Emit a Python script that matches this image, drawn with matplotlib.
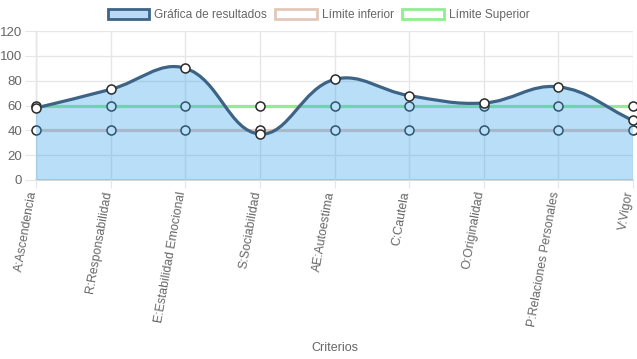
import matplotlib
matplotlib.use("Agg")
import matplotlib.pyplot as plt
from matplotlib.path import Path
from matplotlib.patches import PathPatch, Rectangle
from matplotlib.transforms import ScaledTranslation
import numpy as np

plt.rcParams['font.family'] = ['Liberation Sans', 'DejaVu Sans']

categorias = ["A:Ascendencia", "R:Responsabilidad", "E:Estabilidad Emocional",
              "S:Sociabilidad", "AE:Autoestima", "C:Cautela", "O:Originalidad",
              "P:Relaciones Personales", "V:Vigor"]
resultados = [58, 73, 90, 37, 81, 68, 62, 75, 48]
limite_inferior = [40, 40, 40, 40, 40, 40, 40, 40, 40]
limite_superior = [60, 60, 60, 60, 60, 60, 60, 60, 60]
y_ticks = [0, 20, 40, 60, 80, 100, 120]

W, H = 637, 359
fig = plt.figure(figsize=(W / 100, H / 100), dpi=100)
L, R, T, B = 36, 633, 31, 180
ax = fig.add_axes([L / W, 1 - B / H, (R - L) / W, (B - T) / H])
n = len(categorias)
ax.set_xlim(0, n - 1)
ax.set_ylim(0, 120)

GRID = '#e6e6e6'
TXT = '#666666'
ax.set_xticks(range(n))
ax.set_yticks(y_ticks)
ax.grid(True, color=GRID, linewidth=1, zorder=0)
for s in ax.spines.values():
    s.set_visible(False)
ax.axhline(0, color='#cfcfcf', linewidth=1.2, zorder=1)
ax.axvline(0, color='#d9d9d9', linewidth=1, zorder=1)
ax.tick_params(axis='both', color=GRID, labelcolor=TXT, labelsize=9.5)
ax.tick_params(axis='y', length=8, pad=2)
ax.tick_params(axis='x', length=6, pad=2)
ax.set_xticklabels(categorias, rotation=80, ha='right', va='center',
                   rotation_mode='anchor', fontsize=8.8)
shift = ScaledTranslation(-3 / 100, 0, fig.dpi_scale_trans)
for lbl in ax.get_xticklabels():
    lbl.set_transform(lbl.get_transform() + shift)
ax.set_xlabel('Criterios', color=TXT, fontsize=9.0)
ax.xaxis.set_label_coords(0.5, -1.09)

# Chart.js style bezier (tension 0.4), computed in pixel space
sx = (R - L) / (n - 1)
sy = (B - T) / 120.0
xs = np.arange(n, dtype=float)
ys = np.array(resultados, dtype=float)
t = 0.4
prev_cp, next_cp = [], []
for i in range(n):
    p0 = (xs[max(i - 1, 0)], ys[max(i - 1, 0)])
    p1 = (xs[i], ys[i])
    p2 = (xs[min(i + 1, n - 1)], ys[min(i + 1, n - 1)])
    d01 = np.hypot((p1[0] - p0[0]) * sx, (p1[1] - p0[1]) * sy)
    d12 = np.hypot((p2[0] - p1[0]) * sx, (p2[1] - p1[1]) * sy)
    tot = d01 + d12
    s01 = d01 / tot if tot else 0
    s12 = d12 / tot if tot else 0
    fa, fb = t * s01, t * s12
    prev_cp.append((p1[0] - fa * (p2[0] - p0[0]), min(max(p1[1] - fa * (p2[1] - p0[1]), 0), 120)))
    next_cp.append((p1[0] + fb * (p2[0] - p0[0]), min(max(p1[1] + fb * (p2[1] - p0[1]), 0), 120)))

verts = [(xs[0], ys[0])]
codes = [Path.MOVETO]
for i in range(n - 1):
    verts += [next_cp[i], prev_cp[i + 1], (xs[i + 1], ys[i + 1])]
    codes += [Path.CURVE4] * 3
curve = Path(verts, codes)
fill_path = Path(verts + [(xs[-1], 0), (xs[0], 0), (xs[0], ys[0])],
                 codes + [Path.LINETO, Path.LINETO, Path.CLOSEPOLY])

MK = dict(marker='o', markersize=6.5, markerfacecolor='white',
          markeredgecolor='#2b2b2b', markeredgewidth=1.1)
C_INF = '#e2c7bb'
C_SUP = '#90ee90'
C_RES = '#3e6485'
C_FILL = (54 / 255, 162 / 255, 235 / 255, 0.35)

ax.plot(xs, limite_superior, color=C_SUP, linewidth=2.3, zorder=2, **MK)
ax.plot(xs, limite_inferior, color=C_INF, linewidth=2.3, zorder=2, **MK)
ax.add_patch(PathPatch(fill_path, facecolor=C_FILL, edgecolor='none', zorder=3))
ax.add_patch(PathPatch(curve, facecolor='none', edgecolor=C_RES, linewidth=2.3,
                       zorder=4, capstyle='round'))
ax.plot(xs, ys, linestyle='none', zorder=5, **MK)
for ln in ax.lines:
    ln.set_clip_on(False)

# Legend
handles = [Rectangle((0, 0), 1, 1, facecolor=(0.73, 0.85, 0.97), edgecolor=C_RES, linewidth=2),
           Rectangle((0, 0), 1, 1, facecolor='white', edgecolor=C_INF, linewidth=2),
           Rectangle((0, 0), 1, 1, facecolor='white', edgecolor=C_SUP, linewidth=2)]
fig.legend(handles, ["Gráfica de resultados", "Límite inferior", "Límite Superior"],
           loc='center', bbox_to_anchor=(0.5, 1 - 15 / H), ncol=3, frameon=False,
           fontsize=8.6, handlelength=3.5, handleheight=1.0, handletextpad=0.4,
           columnspacing=0.7, labelcolor=TXT)

fig.savefig('out.png', dpi=100)
